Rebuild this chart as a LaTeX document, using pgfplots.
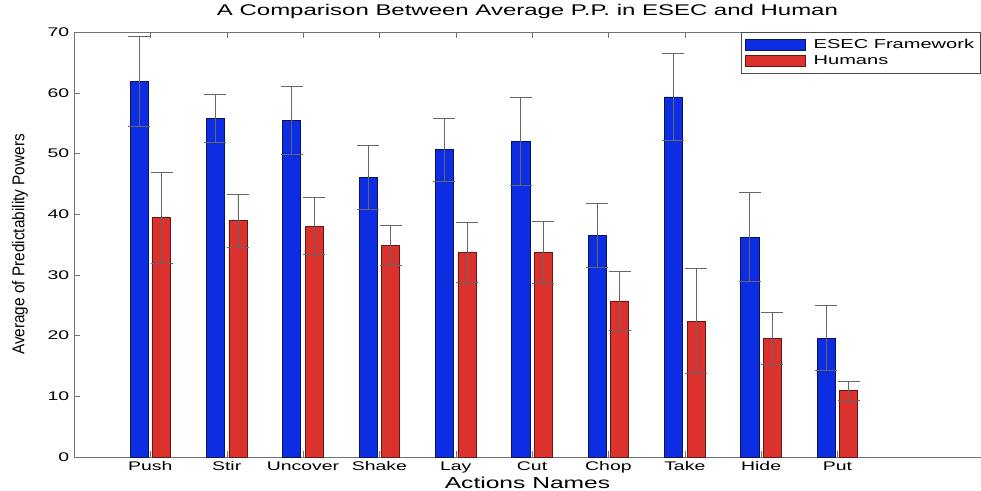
\documentclass[border=0pt]{standalone}
\usepackage{pgfplots}
\pgfplotsset{compat=1.18}
\usepackage{fontspec}
\setmainfont{Liberation Sans}[FakeStretch=1.55]
\newfontfamily\ylfont{Liberation Sans}[FakeStretch=0.9]
\definecolor{esec}{RGB}{12,45,225}
\definecolor{esecedge}{RGB}{10,20,90}
\definecolor{human}{RGB}{220,50,45}
\definecolor{humanedge}{RGB}{100,25,20}

\begin{document}
\begin{tikzpicture}[x=1pt,y=1pt]
\begin{axis}[
    at={(0,0)}, anchor=south west,
    scale only axis,
    width=680.25pt, height=318.75pt,
    xmin=0, xmax=11.88,
    ymin=0, ymax=70,
    xtick={1,...,10},
    xticklabels={Push,Stir,Uncover,Shake,Lay,Cut,Chop,Take,Hide,Put},
    ytick={0,10,...,70},
    axis x line*=box, axis y line*=left,
    axis line style={black!55},
    tick style={black!55},
    tick align=inside,
    major tick length=4.5pt,
    ticklabel style={font=\fontsize{9.4}{11}\selectfont},
    /pgf/number format/assume math mode=true,
    title={A Comparison Between Average P.P. in ESEC and Human},
    title style={at={(0.5,1)}, anchor=base, yshift=6.75pt, font=\fontsize{11.6}{13}\selectfont},
    xlabel={Actions Names},
    xlabel style={at={(0.5,0)}, anchor=base, yshift=-23.5pt, font=\fontsize{11.9}{13}\selectfont},
    ylabel={\ylfont Average of Predictability Powers},
    ylabel style={at={(-0.0595,0.5)}, anchor=center, font=\fontsize{12.8}{14}\selectfont},
    legend style={at={(1,1)}, anchor=north east, draw=black!70, fill=white,
        font=\fontsize{9.7}{11}\selectfont, inner xsep=3pt, inner ysep=3pt,
        row sep=0pt},
    legend cell align=left,
    error bars/error bar style={black!60, line width=0.6pt},
    error bars/error mark options={rotate=90, mark size=8.25pt, line width=0.6pt, black!60},
]
% bars placed at category -/+ 0.148
\addplot[ybar, bar width=0.237, bar shift=0, fill=esec, draw=esecedge, line width=0.5pt,
    legend image code/.code={\draw[fill=esec, draw=esecedge] (4pt,-4.1pt) rectangle (49pt,4.1pt); \path (53pt,0pt);},
    error bars/.cd, y dir=both, y explicit]
coordinates {
    (0.852,61.8) +- (0,7.4)
    (1.852,55.8) +- (0,4.0)
    (2.852,55.5) +- (0,5.6)
    (3.852,46.0) +- (0,5.3)
    (4.852,50.6) +- (0,5.2)
    (5.852,52.0) +- (0,7.2)
    (6.852,36.5) +- (0,5.3)
    (7.852,59.3) +- (0,7.1)
    (8.852,36.2) +- (0,7.3)
    (9.852,19.6) +- (0,5.4)
};
\addlegendentry{ESEC Framework}
\addplot[ybar, bar width=0.237, bar shift=0, fill=human, draw=humanedge, line width=0.5pt,
    legend image code/.code={\draw[fill=human, draw=humanedge] (4pt,-4.1pt) rectangle (49pt,4.1pt); \path (53pt,0pt);},
    error bars/.cd, y dir=both, y explicit]
coordinates {
    (1.148,39.4) +- (0,7.5)
    (2.148,38.9) +- (0,4.3)
    (3.148,38.0) +- (0,4.7)
    (4.148,34.8) +- (0,3.3)
    (5.148,33.7) +- (0,4.9)
    (6.148,33.7) +- (0,5.1)
    (7.148,25.7) +- (0,4.8)
    (8.148,22.4) +- (0,8.6)
    (9.148,19.5) +- (0,4.3)
    (10.148,10.9) +- (0,1.5)
};
\addlegendentry{Humans}
\end{axis}
\pgfresetboundingbox
\useasboundingbox (-55.5pt,-24.75pt) rectangle (680.25pt,342.75pt);
\end{tikzpicture}
\end{document}
